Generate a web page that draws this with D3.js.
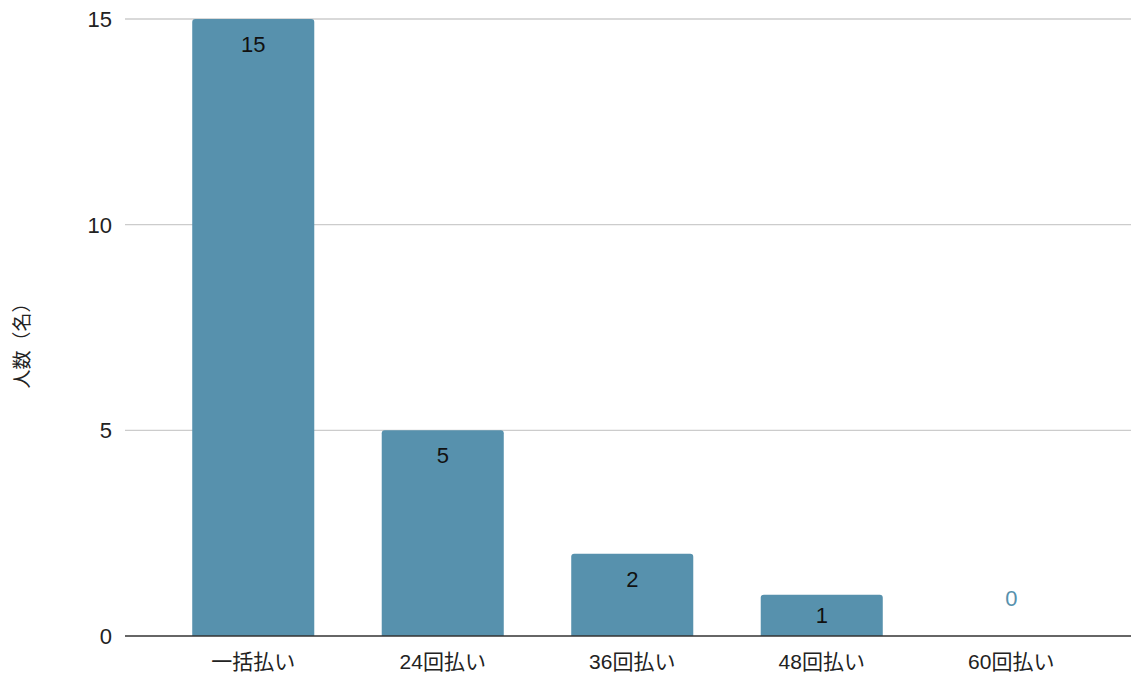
<!DOCTYPE html>
<html>
<head>
<meta charset="utf-8">
<script src="https://cdn.jsdelivr.net/npm/d3@7"></script>
<style>
  body { margin: 0; background: #fff; }
  text { font-family: "Liberation Sans", "Noto Sans CJK JP", sans-serif; }
</style>
</head>
<body>
<div id="chart"></div>
<script>
// data
const categories = ["一括払い", "24回払い", "36回払い", "48回払い", "60回払い"];
const counts = [15, 5, 2, 1, 0];
const yTicks = [0, 5, 10, 15];
const yTitle = "人数（名）";

const W = 1131, H = 675;
const margin = { top: 19, right: 0, bottom: 39, left: 125 };
const width = W - margin.left - margin.right;
const height = H - margin.top - margin.bottom;
const barColor = "#5791ad";

const svg = d3.select("#chart")
    .append("svg")
    .attr("width", W)
    .attr("height", H)
    .append("g")
    .attr("transform", `translate(${margin.left}, ${margin.top})`);

const x = d3.scaleBand()
    .domain(categories)
    .range([33.5, width - 25])
    .paddingInner(0.356)
    .paddingOuter(0.178);

const y = d3.scaleLinear()
    .domain([0, 15])
    .range([height, 0]);

// gridlines
svg.append("g")
    .selectAll("line")
    .data(yTicks.filter(d => d > 0))
    .enter()
    .append("line")
    .attr("x1", 0)
    .attr("x2", width)
    .attr("y1", d => y(d))
    .attr("y2", d => y(d))
    .attr("stroke", "#cccccc")
    .attr("stroke-width", 1.3);

// y tick labels
svg.append("g")
    .selectAll("text")
    .data(yTicks)
    .enter()
    .append("text")
    .attr("x", -13)
    .attr("y", d => y(d))
    .attr("dy", "0.36em")
    .attr("text-anchor", "end")
    .style("font-size", "22px")
    .attr("fill", "#222")
    .text(d => d);

// bars with rounded top corners
const r = 3;
function barPath(d, i) {
  const x0 = x(categories[i]);
  const x1 = x0 + x.bandwidth();
  const yt = y(d);
  const yb = y(0);
  if (d === 0) return "";
  return `M${x0},${yb} L${x0},${yt + r} Q${x0},${yt} ${x0 + r},${yt}
          L${x1 - r},${yt} Q${x1},${yt} ${x1},${yt + r} L${x1},${yb} Z`;
}

svg.append("g")
    .selectAll("path")
    .data(counts)
    .enter()
    .append("path")
    .attr("d", barPath)
    .attr("fill", barColor);

// value labels (inside end, centred when the bar is short, above baseline for 0)
svg.append("g")
    .selectAll("text")
    .data(counts)
    .enter()
    .append("text")
    .attr("x", (d, i) => x(categories[i]) + x.bandwidth() / 2)
    .attr("y", d => d === 0 ? y(0) - 38 : Math.min(y(d) + 25, (y(d) + y(0)) / 2))
    .attr("dy", "0.36em")
    .attr("text-anchor", "middle")
    .style("font-size", "22px")
    .attr("fill", d => d === 0 ? barColor : "#111")
    .text(d => d);

// baseline
svg.append("line")
    .attr("x1", 0)
    .attr("x2", width)
    .attr("y1", y(0))
    .attr("y2", y(0))
    .attr("stroke", "#333")
    .attr("stroke-width", 1.5);

// x labels
svg.append("g")
    .selectAll("text")
    .data(categories)
    .enter()
    .append("text")
    .attr("x", d => x(d) + x.bandwidth() / 2)
    .attr("y", height + 25)
    .attr("dy", "0.36em")
    .attr("text-anchor", "middle")
    .style("font-size", "21px")
    .attr("fill", "#222")
    .text(d => d);

// y title
svg.append("text")
    .attr("transform", `translate(${22 - margin.left}, ${341 - margin.top}) rotate(-90)`)
    .attr("dy", "0.36em")
    .attr("text-anchor", "middle")
    .style("font-size", "19px")
    .attr("fill", "#222")
    .text(yTitle);
</script>
</body>
</html>
